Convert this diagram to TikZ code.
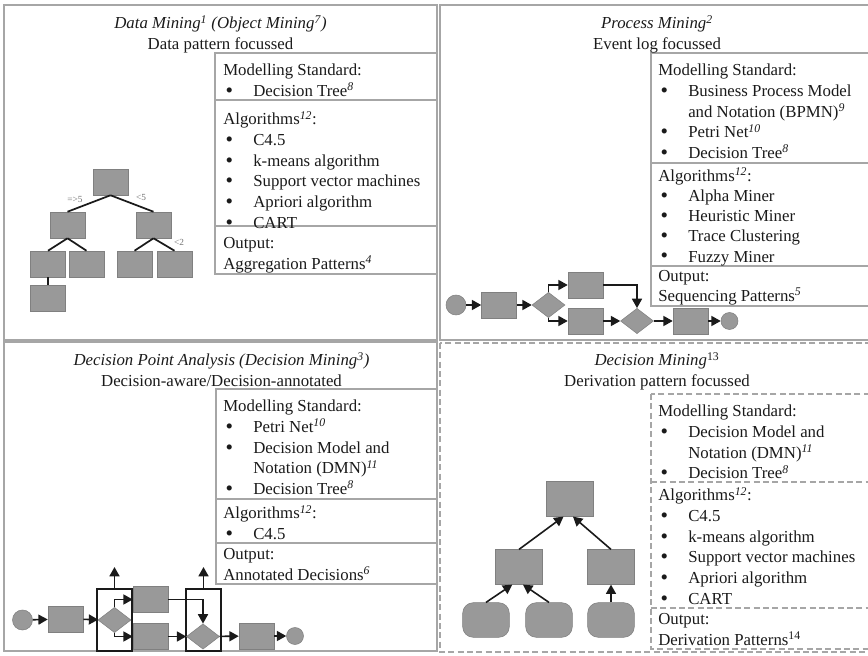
\documentclass[tikz,border=0pt]{standalone}
\usepackage{fontspec}
\setmainfont{Liberation Serif}
\usepackage{xcolor}
\usetikzlibrary{shapes.geometric, arrows.meta, positioning, calc}

\definecolor{framegray}{HTML}{A6A6A6}
\definecolor{boxfill}{HTML}{999999}
\definecolor{boxline}{HTML}{808080}
\definecolor{inkblack}{HTML}{1A1A1A}

\newcommand{\fn}[1]{\textsuperscript{\itshape #1}}
\newcommand{\up}[1]{\textsuperscript{#1}}
\newcommand{\blt}{\makebox[22.5pt][l]{\hspace{1.8pt}\raisebox{-0.6pt}{\fontsize{16}{16}\selectfont\textbullet}}}
\newcommand{\cont}{\hspace*{22.5pt}}
\newcommand{\topst}{\rule{0pt}{11.5pt}}

\begin{document}
\begin{tikzpicture}[
    x=0.75pt, y=-0.75pt,
    every node/.style={font=\fontsize{12.6}{15.5}\selectfont, text=inkblack},
    frm/.style={draw=framegray, line width=1.1pt},
    dfrm/.style={frm, dash pattern=on 4.5pt off 2.5pt},
    ttl/.style={anchor=north, align=center, inner sep=0pt},
    blk/.style={anchor=north west, align=left, inner sep=0pt},
    act/.style={draw=boxline, fill=boxfill, minimum width=26.25pt, minimum height=19.5pt, inner sep=0pt},
    bigact/.style={act, minimum width=35pt, minimum height=26pt},
    leaf/.style={bigact, rounded corners=8pt},
    gate/.style={diamond, draw=boxline, fill=boxfill, minimum width=24.75pt, minimum height=19pt, inner sep=0pt},
    startev/.style={circle, draw=boxline, fill=boxfill, minimum size=15pt, inner sep=0pt},
    endev/.style={startev, minimum size=12.75pt},
    arr/.style={-{Triangle[length=7pt,width=7.5pt]}, line width=1.2pt, draw=inkblack},
    link/.style={line width=1.3pt, draw=inkblack},
    cond/.style={font=\fontsize{7}{8}\selectfont, text=black!55, inner sep=0pt},
    grp/.style={draw=inkblack, line width=1.3pt, minimum width=26.25pt, minimum height=46.5pt, inner sep=0pt},
  ]
  \useasboundingbox (0,0) rectangle (868,656);
  \clip (0,0) rectangle (868,656);

  % Quadrant frames
  \draw[frm] (4,5) rectangle (437,340);
  \draw[frm] (440,5) rectangle (874,340);
  \draw[frm] (4,342) rectangle (437,651);
  \draw[dfrm] (440,343) rectangle (874,652);

  % Property boxes
  \draw[frm] (215,53) rectangle (437,274);
  \draw[frm] (215,100) -- (437,100);
  \draw[frm] (215,226) -- (437,226);
  \draw[frm] (651,53) rectangle (874,306);
  \draw[frm] (651,163) -- (874,163);
  \draw[frm] (651,266) -- (874,266);
  \draw[frm] (216,389) rectangle (437,584);
  \draw[frm] (216,499) -- (437,499);
  \draw[frm] (216,543) -- (437,543);
  \draw[dfrm] (651,394) rectangle (874,649);
  \draw[dfrm] (651,482) -- (874,482);
  \draw[dfrm] (651,608) -- (874,608);

  % Data mining
  \node[ttl] (tl-title) at (220.5,13.3) {\topst{\itshape Data Mining\fn{1} (Object Mining\fn{7})}\\Data pattern focussed};
  \node[blk] (tl-std) at (223,60.3) {\topst Modelling Standard:\\\blt Decision Tree\fn{8}};
  \node[blk] (tl-alg) at (223,109.3) {\topst Algorithms\fn{12}:\\\blt C4.5\\\blt k-means algorithm\\\blt Support vector machines\\\blt Apriori algorithm\\\blt CART};
  \node[blk] (tl-out) at (223,233.3) {\topst Output:\\Aggregation Patterns\fn{4}};

  \node[act] (t0) at (110.5,182) {};
  \node[act] (t1) at (67.5,225) {};
  \node[act] (t2) at (153.5,225) {};
  \node[act] (t3) at (48,264) {};
  \node[act] (t4) at (86.5,264) {};
  \node[act] (t5) at (134.5,264) {};
  \node[act] (t6) at (174.5,264) {};
  \node[act] (t7) at (48,298) {};
  \draw[link] (t0.south) -- (t1.north);
  \draw[link] (t0.south) -- (t2.north);
  \draw[link] (t1.south) -- (t3.north);
  \draw[link] (t1.south) -- (t4.north);
  \draw[link] (t2.south) -- (t5.north);
  \draw[link] (t2.south) -- (t6.north);
  \draw[link] (t3.south) -- (t7.north);
  \node[cond] (c-ge) at (75,199) {=>5};
  \node[cond] (c-lt) at (141,197) {<5};
  \node[cond] (c-two) at (179,242) {<2};

  % Process mining
  \node[ttl] (tr-title) at (657,13.3) {\topst{\itshape Process Mining\fn{2}}\\Event log focussed};
  \node[blk] (tr-std) at (658,60.3) {\topst Modelling Standard:\\\blt Business Process Model\\\cont and Notation (BPMN)\fn{9}\\\blt Petri Net\fn{10}\\\blt Decision Tree\fn{8}};
  \node[blk, font=\fontsize{12.6}{15.1}\selectfont] (tr-alg) at (658,166) {\topst Algorithms\fn{12}:\\\blt Alpha Miner\\\blt Heuristic Miner\\\blt Trace Clustering\\\blt Fuzzy Miner};
  \node[blk] (tr-out) at (658,265.5) {\topst Output:\\Sequencing Patterns\fn{5}};

  \node[startev] (p0) at (456,305) {};
  \node[act] (p1) at (499,305) {};
  \node[gate] (p2) at (548.5,305) {};
  \node[act] (p3) at (585.5,285) {};
  \node[act] (p4) at (585.5,321) {};
  \node[gate] (p5) at (637,321) {};
  \node[act] (p6) at (690.5,321) {};
  \node[endev] (p7) at (729.5,321) {};
  \draw[arr] (p0) -- (p1);
  \draw[arr] (p1) -- (p2);
  \draw[arr] (p2.north) |- (p3.west);
  \draw[arr] (p2.south) |- (p4.west);
  \draw[arr] (p3.east) -| (p5.north);
  \draw[arr] (p4) -- (p5);
  \draw[arr] (p5) -- (p6);
  \draw[arr] (p6) -- (p7);

  % Decision point analysis
  \node[ttl] (bl-title) at (221.5,350.3) {\topst{\itshape Decision Point Analysis (Decision Mining\fn{3})}\\Decision-aware/Decision-annotated};
  \node[blk] (bl-std) at (223,396.3) {\topst Modelling Standard:\\\blt Petri Net\fn{10}\\\blt Decision Model and\\\cont Notation (DMN)\fn{11}\\\blt Decision Tree\fn{8}};
  \node[blk] (bl-alg) at (223,503.3) {\topst Algorithms\fn{12}:\\\blt C4.5};
  \node[blk] (bl-out) at (223,544.3) {\topst Output:\\Annotated Decisions\fn{6}};

  \node[grp] (f1) at (114.5,620) {};
  \node[grp] (f2) at (203.5,620) {};
  \coordinate (u1) at (114.5,567);
  \coordinate (u2) at (203.5,567);
  \draw[arr] (f1.north) -- (u1);
  \draw[arr] (f2.north) -- (u2);
  \node[startev] (q0) at (22.5,620) {};
  \node[act] (q1) at (65.5,619) {};
  \node[gate] (q2) at (114.5,620) {};
  \node[act] (q3) at (150.5,599.5) {};
  \node[act] (q4) at (150.5,636.5) {};
  \node[gate] (q5) at (203,636.5) {};
  \node[act] (q6) at (256.5,636) {};
  \node[endev] (q7) at (295,636) {};
  \draw[arr] (q0) -- (q1);
  \draw[arr] (q1) -- (q2);
  \draw[arr] (q2.north) |- (q3.west);
  \draw[arr] (q2.south) |- (q4.west);
  \draw[arr] (q3.east) -| (q5.north);
  \draw[arr] (q4) -- (q5);
  \draw[arr] (q5) -- (q6);
  \draw[arr] (q6) -- (q7);

  % Decision mining
  \node[ttl] (br-title) at (657,350.3) {\topst{\itshape Decision Mining}\up{13}\\Derivation pattern focussed};
  \node[blk] (br-std) at (658,401.3) {\topst Modelling Standard:\\\blt Decision Model and\\\cont Notation (DMN)\fn{11}\\\blt Decision Tree\fn{8}};
  \node[blk] (br-alg) at (658,485.3) {\topst Algorithms\fn{12}:\\\blt C4.5\\\blt k-means algorithm\\\blt Support vector machines\\\blt Apriori algorithm\\\blt CART};
  \node[blk] (br-out) at (658,609.3) {\topst Output:\\Derivation Patterns\up{14}};

  \node[bigact] (r0) at (569.5,499) {};
  \node[bigact] (r1) at (519,567) {};
  \node[bigact] (r2) at (611,567) {};
  \node[leaf] (r3) at (486,620) {};
  \node[leaf] (r4) at (549,620) {};
  \node[leaf] (r5) at (611,620) {};
  \draw[arr] (r1.north) -- ([xshift=-4.5pt]r0.south);
  \draw[arr] (r2.north) -- ([xshift=2.6pt]r0.south);
  \draw[arr] (r3.north) -- ([xshift=-5pt]r1.south);
  \draw[arr] (r4.north) -- ([xshift=3pt]r1.south);
  \draw[arr] (r5.north) -- (r2.south);
\end{tikzpicture}
\end{document}
